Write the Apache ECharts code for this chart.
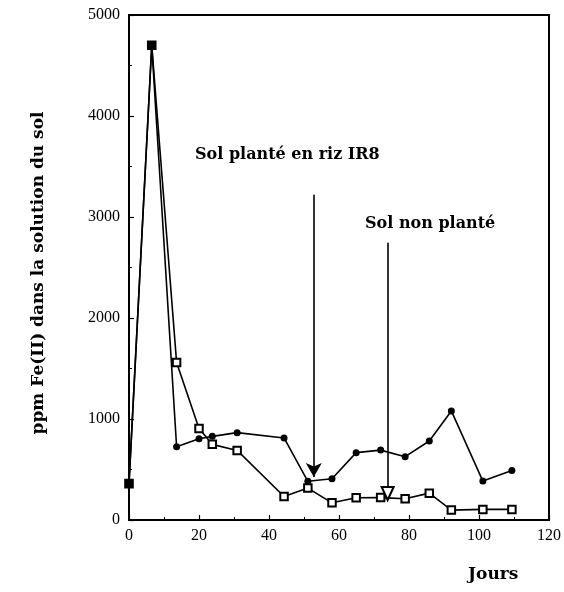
<!DOCTYPE html>
<html>
<head>
<meta charset="utf-8">
<script src="https://cdn.jsdelivr.net/npm/echarts@6/dist/echarts.min.js"></script>
<style>html,body{margin:0;padding:0;background:#fff}#c{width:564px;height:592px}</style>
</head>
<body>
<div id="c"></div>
<script>
// Data
const days = [0, 6.5, 13.6, 20, 23.8, 30.9, 44.3, 51.1, 58, 64.9, 71.9, 78.9, 85.8, 92.1, 101.1, 109.4];
const planted = [360, 4700, 725, 805, 828, 865, 812, 383, 409, 667, 692, 627, 782, 1080, 385, 491];
const unplanted = [360, 4700, 1560, 905, 749, 689, 233, 316, 170, 220, 222, 210, 266, 98, 105, 105];
const xTicks = [0, 20, 40, 60, 80, 100, 120];
const yTicks = [0, 1000, 2000, 3000, 4000, 5000];
const arrowPlanted = { x: 52.8, from: 3220, to: 425 };
const arrowUnplanted = { x: 73.9, from: 2745, to: 262 };
const labelPlanted = 'Sol planté en riz IR8';
const labelUnplanted = 'Sol non planté';
const yTitle = 'ppm Fe(II) dans la solution du sol';
const xTitle = 'Jours';

const serif = '"Liberation Serif", "DejaVu Serif", serif';
const wide = '"DejaVu Serif", "Liberation Serif", serif';
const chart = echarts.init(document.getElementById('c'), null, { renderer: 'canvas' });

const pair = (xs, ys) => xs.map((x, i) => [x, ys[i]]);
const sharedIdx = [0, 1];

const option = {
  animation: false,
  backgroundColor: '#fff',
  grid: { left: 129, right: 12, top: 15, bottom: 72, show: true, borderColor: '#000', borderWidth: 2, backgroundColor: 'transparent' },
  xAxis: {
    type: 'value', min: xTicks[0], max: xTicks[xTicks.length - 1], interval: 20,
    axisLine: { show: true, lineStyle: { color: '#000', width: 2 } },
    axisTick: { show: true, inside: true, length: 5, lineStyle: { color: '#000', width: 1.2 } },
    minorTick: { show: true, splitNumber: 2, length: 3, lineStyle: { color: '#000', width: 1 } },
    splitLine: { show: false },
    axisLabel: { color: '#000', fontFamily: serif, fontSize: 16, margin: 8, formatter: v => String(v) }
  },
  yAxis: {
    type: 'value', min: yTicks[0], max: yTicks[yTicks.length - 1], interval: 1000,
    axisLine: { show: true, lineStyle: { color: '#000', width: 2 } },
    axisTick: { show: true, inside: true, length: 5, lineStyle: { color: '#000', width: 1.2 } },
    minorTick: { show: true, splitNumber: 2, length: 3, lineStyle: { color: '#000', width: 1 } },
    splitLine: { show: false },
    axisLabel: { color: '#000', fontFamily: serif, fontSize: 16, margin: 9, formatter: v => String(v) }
  },
  series: [
    {
      name: 'planté', type: 'line', data: pair(days, planted),
      symbol: 'circle', symbolSize: 7,
      lineStyle: { color: '#000', width: 1.6 },
      itemStyle: { color: '#000' },
      z: 3,
      markLine: {
        silent: true, symbol: ['none', 'arrow'], symbolSize: [12, 14],
        lineStyle: { color: '#000', width: 1.6, type: 'solid' },
        label: { show: false },
        data: [[{ coord: [arrowPlanted.x, arrowPlanted.from] }, { coord: [arrowPlanted.x, arrowPlanted.to] }]]
      }
    },
    {
      name: 'non planté', type: 'line',
      data: pair(days, unplanted).map((p, i) => sharedIdx.includes(i)
        ? { value: p, symbol: 'rect', symbolSize: 8, itemStyle: { color: '#000', borderColor: '#000' } }
        : { value: p }),
      symbol: 'emptyRect', symbolSize: 7.5,
      lineStyle: { color: '#000', width: 1.6 },
      itemStyle: { color: '#000', borderColor: '#000', borderWidth: 1.6 },
      z: 4,
      markLine: {
        silent: true, symbol: ['none', 'emptyTriangle'], symbolSize: [12, 13],
        lineStyle: { color: '#000', width: 1.6, type: 'solid' },
        label: { show: false },
        data: [[{ coord: [arrowUnplanted.x, arrowUnplanted.from] }, { coord: [arrowUnplanted.x, arrowUnplanted.to] }]]
      }
    }
  ],
  graphic: [
    { type: 'text', left: 195, top: 147, style: { text: labelPlanted, font: 'bold 16px ' + wide, fill: '#000' } },
    { type: 'text', left: 365, top: 216, style: { text: labelUnplanted, font: 'bold 16px ' + wide, fill: '#000' } },
    { type: 'text', left: 468, top: 566, style: { text: xTitle, font: 'bold 17px ' + wide, fill: '#000' } },
    { type: 'text', x: 39, y: 273, rotation: Math.PI / 2,
      style: { text: yTitle, font: 'bold 17px ' + wide, fill: '#000', align: 'center', verticalAlign: 'middle' } }
  ]
};
chart.setOption(option);
</script>
</body>
</html>
